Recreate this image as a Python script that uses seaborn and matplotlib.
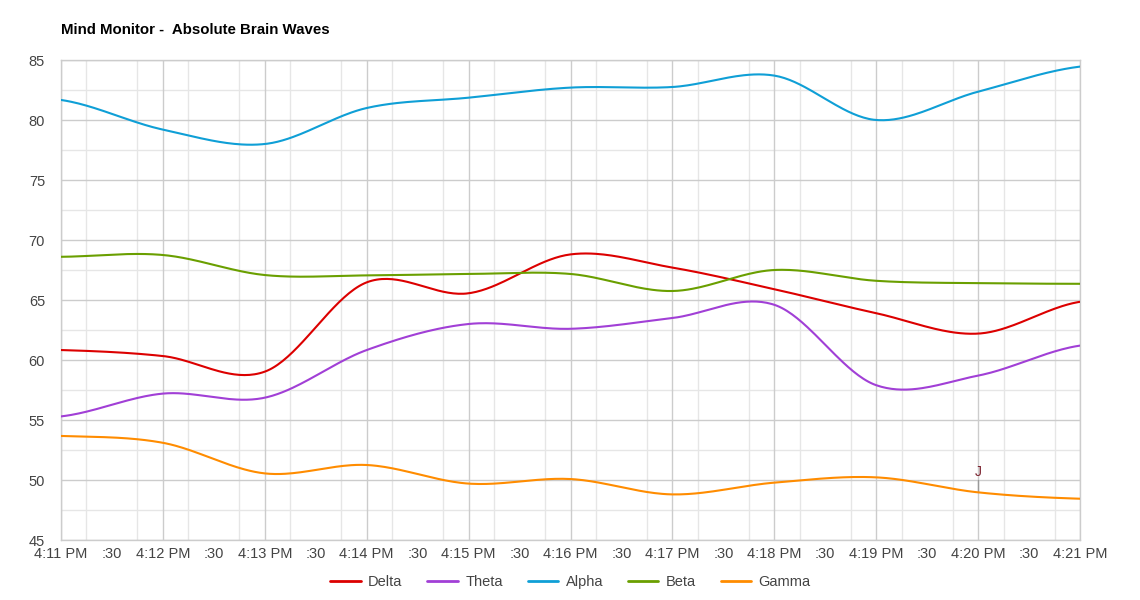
import numpy as np
import pandas as pd
import matplotlib
matplotlib.use("Agg")
import matplotlib.pyplot as plt
import seaborn as sns

# ---- data ----
times = ["4:11 PM", "4:12 PM", "4:13 PM", "4:14 PM", "4:15 PM", "4:16 PM",
         "4:17 PM", "4:18 PM", "4:19 PM", "4:20 PM", "4:21 PM"]
delta = [60.83, 60.33, 59.03, 66.47, 65.56, 68.8, 67.7, 65.9, 63.9, 62.2, 64.85]
theta = [55.3, 57.2, 56.86, 60.83, 63.0, 62.6, 63.5, 64.6, 57.9, 58.7, 61.2]
alpha = [81.67, 79.2, 78.0, 81.0, 81.86, 82.7, 82.75, 83.7, 80.0, 82.36, 84.45]
beta = [68.6, 68.75, 67.08, 67.05, 67.17, 67.17, 65.75, 67.5, 66.6, 66.4, 66.35]
gamma = [53.67, 53.1, 50.55, 51.25, 49.7, 50.08, 48.8, 49.78, 50.22, 48.97, 48.44]
series_names = ["Delta", "Theta", "Alpha", "Beta", "Gamma"]
series_colors = ["#dc0000", "#a13fd6", "#0f9fd6", "#6a9f00", "#ff8c00"]
x_tick_labels = ["4:11 PM", ":30", "4:12 PM", ":30", "4:13 PM", ":30", "4:14 PM", ":30",
                 "4:15 PM", ":30", "4:16 PM", ":30", "4:17 PM", ":30", "4:18 PM", ":30",
                 "4:19 PM", ":30", "4:20 PM", ":30", "4:21 PM"]
y_ticks = [45, 50, 55, 60, 65, 70, 75, 80, 85]
annotation_series = "Gamma"
annotation_time = "4:20 PM"
annotation_text = "J"
title = "Mind Monitor -  Absolute Brain Waves"


def to_minutes(t):
    hm = t.split()[0]
    h, m = hm.split(":")
    return (int(h) * 60 + int(m)) - (4 * 60 + 11)


x = np.array([to_minutes(t) for t in times], dtype=float)
values = dict(zip(series_names, [delta, theta, alpha, beta, gamma]))


def smooth(xs, ys, n=40):
    """Catmull-Rom style cubic Hermite smoothing through the data points."""
    ys = np.asarray(ys, float)
    m = np.zeros_like(ys)
    m[1:-1] = (ys[2:] - ys[:-2]) / (xs[2:] - xs[:-2])
    m[0] = (ys[1] - ys[0]) / (xs[1] - xs[0]) * 0.5
    m[-1] = (ys[-1] - ys[-2]) / (xs[-1] - xs[-2]) * 0.5
    out_x, out_y = [], []
    for i in range(len(xs) - 1):
        hstep = xs[i + 1] - xs[i]
        t = np.linspace(0, 1, n, endpoint=False)
        h00 = 2 * t**3 - 3 * t**2 + 1
        h10 = t**3 - 2 * t**2 + t
        h01 = -2 * t**3 + 3 * t**2
        h11 = t**3 - t**2
        out_x.append(xs[i] + t * hstep)
        out_y.append(h00 * ys[i] + h10 * hstep * m[i] + h01 * ys[i + 1] + h11 * hstep * m[i + 1])
    out_x.append([xs[-1]])
    out_y.append([ys[-1]])
    return np.concatenate(out_x), np.concatenate(out_y)


frames = []
for name in series_names:
    sx, sy = smooth(x, values[name])
    frames.append(pd.DataFrame({"t": sx, "value": sy, "series": name}))
df = pd.concat(frames, ignore_index=True)

# ---- figure ----
sns.set_theme(style="white")
plt.rcParams["font.family"] = ["Liberation Sans", "DejaVu Sans"]

fig = plt.figure(figsize=(11.4, 6.0), dpi=100)
ax = fig.add_axes([61 / 1140, 60 / 600, (1080 - 61) / 1140, 480 / 600])

sns.lineplot(data=df, x="t", y="value", hue="series", hue_order=series_names,
             palette=series_colors, linewidth=1.5, ax=ax, sort=False,
             estimator=None, legend=True, zorder=3)

ax.set_xlim(0, 10)
ax.set_ylim(45, 85)
ax.set_xticks(np.arange(0, 10.01, 0.5))
ax.set_xticklabels(x_tick_labels)
ax.set_yticks(y_ticks)
ax.set_yticklabels([str(v) for v in y_ticks])
ax.set_xticks(np.arange(0, 10.01, 0.25), minor=True)
ax.set_yticks(np.arange(45, 85.01, 2.5), minor=True)
ax.set_xlabel("")
ax.set_ylabel("")

ax.grid(which="minor", color="#e6e6e6", linewidth=1, zorder=0)
ax.grid(which="major", axis="y", color="#cccccc", linewidth=1, zorder=1)
# x major grid only on whole minutes
for v in range(0, 11):
    ax.axvline(v, color="#cccccc", linewidth=1, zorder=1)
ax.grid(which="major", axis="x", visible=False)
ax.set_axisbelow(True)

for s in ax.spines.values():
    s.set_color("#cccccc")
    s.set_linewidth(1)

ax.tick_params(axis="both", which="both", length=0)
ax.tick_params(axis="y", pad=11.5, labelsize=10.5, labelcolor="#444444")
ax.tick_params(axis="x", pad=5, labelsize=10.5, labelcolor="#444444")

# annotation
ai = times.index(annotation_time)
ax_x = x[ai]
ax_y = values[annotation_series][ai]
ax.plot([ax_x, ax_x], [ax_y, ax_y + 1.05], color="#999999", linewidth=1, zorder=2)
ax.text(ax_x, ax_y + 1.1, annotation_text, ha="center", va="bottom",
        fontsize=10, color="#7a1f2c", zorder=4)

# legend
sns.move_legend(ax, "upper center", bbox_to_anchor=(0.5, -0.046), ncol=5,
                frameon=False, title=None, fontsize=10.5, handlelength=2.1,
                handletextpad=0.5, columnspacing=1.7, labelcolor="#444444")
leg = ax.get_legend()
for line in leg.get_lines():
    line.set_linewidth(2)

fig.text(61 / 1140, 1 - 30 / 600, title, ha="left", va="center",
         fontsize=10.8, fontweight="bold", color="#000000")

fig.savefig("out.png", dpi=100)
